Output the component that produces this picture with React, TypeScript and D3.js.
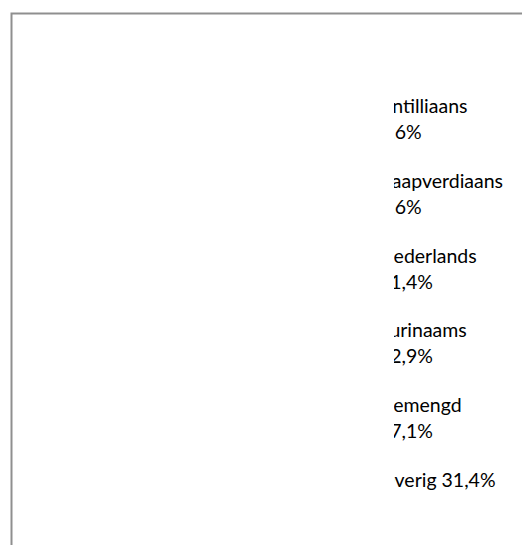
import React from "react";
import * as d3 from "d3";

const categories = ["Antilliaans", "Kaapverdiaans", "Nederlands", "Surinaams", "Gemengd", "Overig"];
const values = [8.6, 8.6, 21.4, 12.9, 17.1, 31.4];

const W = 522;
const H = 545;
const FONT = "Lato, 'Open Sans', sans-serif";
const FS = 19.5;
const TEXT_X = 379;
const CLIP_X = 394;

const fmt = (v: number) => d3.format(".1f")(v).replace(".", ",") + "%";

function wrap(name: string, pct: string): string[] {
  const one = `${name} ${pct}`;
  return one.length > 12 ? [name, pct] : [one];
}

export default function App() {
  const y = d3.scalePoint<string>().domain(categories).range([113, 487]);
  return (
    <svg width={W} height={H} style={{ position: "absolute", left: 0, top: 0, background: "#fff" }}>
      <defs>
        <clipPath id="lg">
          <rect x={CLIP_X} y={0} width={W - CLIP_X} height={H} />
        </clipPath>
      </defs>
      <rect x={11.5} y={13.5} width={W + 20} height={H + 20} fill="#fff" stroke="#8f8f8f" strokeWidth={2} />
      <g clipPath="url(#lg)" fontFamily={FONT} fontSize={FS} fill="#000">
        {categories.map((c, i) => {
          const lines = wrap(c, fmt(values[i]));
          return (
            <text key={c} x={TEXT_X} y={y(c)}>
              {lines.map((l, j) => (
                <tspan key={j} x={TEXT_X} dy={j === 0 ? 0 : 26}>
                  {l}
                </tspan>
              ))}
            </text>
          );
        })}
      </g>
    </svg>
  );
}
